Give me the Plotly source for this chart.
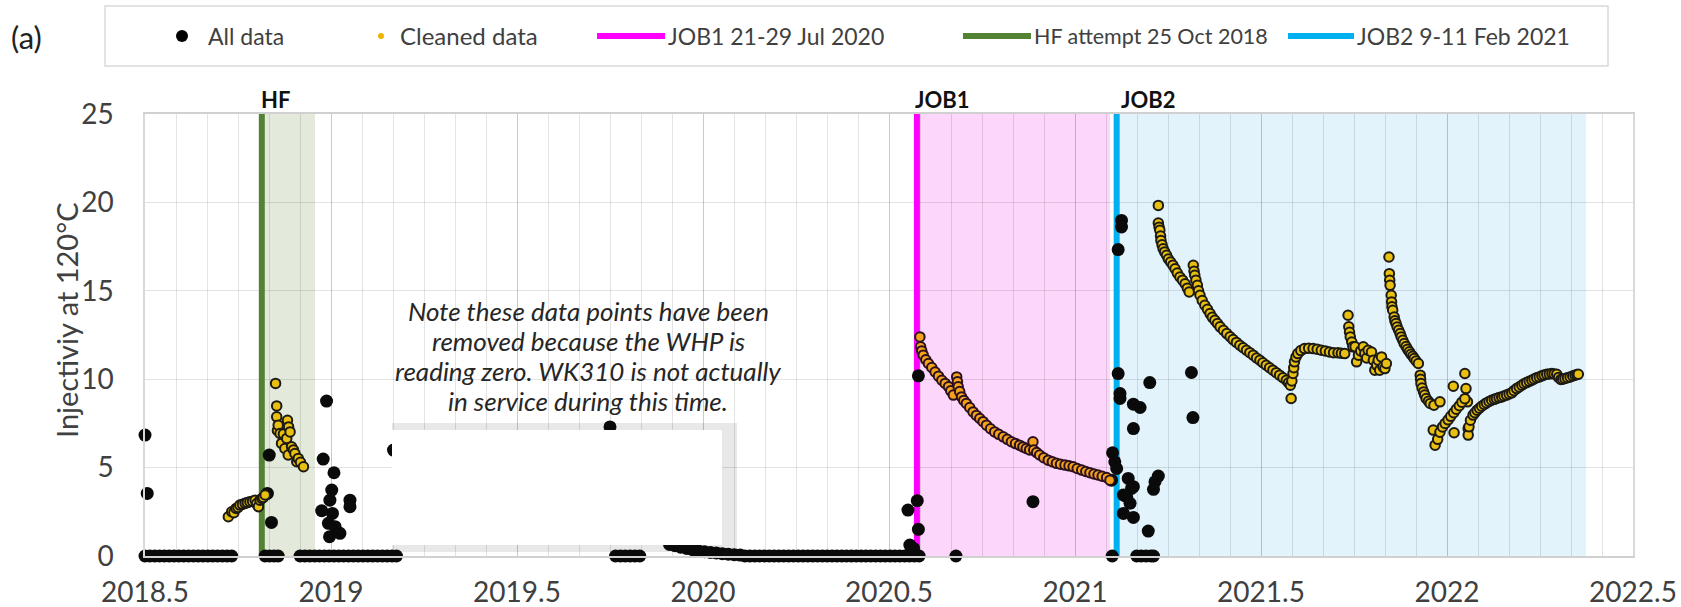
import plotly.graph_objects as go

# ---------------- data (decimal years, injectivity) ----------------
# "All data" (black points)
all_x = [
    2018.500, 2018.513, 2018.526, 2018.539, 2018.552, 2018.565, 2018.578, 2018.591, 2018.604, 2018.617,
    2018.630, 2018.643, 2018.656, 2018.669, 2018.682, 2018.695, 2018.708, 2018.721, 2018.733,
    2018.500, 2018.506,
    2018.823, 2018.835, 2018.847, 2018.858,
    2018.834, 2018.829, 2018.840,
    2018.917, 2018.930, 2018.943, 2018.956, 2018.969, 2018.982, 2018.995, 2019.008, 2019.021, 2019.034,
    2019.047, 2019.060, 2019.073, 2019.086, 2019.099, 2019.112, 2019.125, 2019.138, 2019.151, 2019.164, 2019.176,
    2018.988, 2018.979, 2019.008, 2019.002, 2018.997, 2018.975, 2019.004, 2018.993, 2019.011, 2018.996,
    2019.024, 2019.051, 2019.051, 2019.168,
    2019.750,
    2019.765, 2019.778, 2019.791, 2019.804, 2019.817, 2019.830,
    2019.910, 2019.925, 2019.940, 2019.956, 2019.972, 2019.988, 2020.004, 2020.020, 2020.036, 2020.052,
    2020.068, 2020.084, 2020.100,
    2020.113, 2020.126, 2020.139, 2020.152, 2020.165, 2020.178, 2020.191, 2020.204, 2020.217, 2020.230,
    2020.243, 2020.256, 2020.269, 2020.282, 2020.295, 2020.308, 2020.321, 2020.334, 2020.347, 2020.360,
    2020.373, 2020.386, 2020.399, 2020.412, 2020.425, 2020.438, 2020.451, 2020.464, 2020.477, 2020.490,
    2020.503, 2020.516, 2020.529, 2020.542, 2020.555, 2020.568, 2020.581,
    2020.551, 2020.576, 2020.579, 2020.556, 2020.561, 2020.566, 2020.579,
    2020.680, 2020.887,
    2021.125, 2021.125, 2021.116, 2021.116, 2021.121, 2021.121, 2021.201, 2021.313, 2021.317, 2021.157,
    2021.175, 2021.157, 2021.101, 2021.107, 2021.112, 2021.098, 2021.143, 2021.157, 2021.152, 2021.130,
    2021.139, 2021.148, 2021.130, 2021.157, 2021.224, 2021.215, 2021.211, 2021.197,
    2021.100, 2021.166, 2021.178, 2021.191, 2021.204, 2021.211,
]
all_y = [
    0, 0, 0, 0, 0, 0, 0, 0, 0, 0,
    0, 0, 0, 0, 0, 0, 0, 0, 0,
    6.84, 3.54,
    0, 0, 0, 0,
    5.71, 3.54, 1.90,
    0, 0, 0, 0, 0, 0, 0, 0, 0, 0,
    0, 0, 0, 0, 0, 0, 0, 0, 0, 0, 0,
    8.76, 5.48, 4.71, 3.73, 3.16, 2.56, 2.41, 1.85, 1.66, 1.09,
    1.28, 3.16, 2.79, 5.99,
    7.30,
    0, 0, 0, 0, 0, 0,
    0.65, 0.58, 0.50, 0.43, 0.36, 0.28, 0.24, 0.20, 0.17, 0.13,
    0.10, 0.07, 0.05,
    0, 0, 0, 0, 0, 0, 0, 0, 0, 0,
    0, 0, 0, 0, 0, 0, 0, 0, 0, 0,
    0, 0, 0, 0, 0, 0, 0, 0, 0, 0,
    0, 0, 0, 0, 0, 0, 0,
    2.60, 3.13, 1.51, 0.62, 0.34, 0.43, 10.19,
    0, 3.07,
    18.98, 18.61, 17.33, 10.32, 9.19, 8.91, 9.81, 10.38, 7.83, 8.59,
    8.40, 7.21, 5.84, 5.33, 4.95, 4.29, 4.39, 3.92, 3.82, 3.45,
    3.35, 2.98, 2.41, 2.18, 4.52, 4.20, 3.77, 1.41,
    0, 0, 0, 0, 0, 0,
]

# "Cleaned data" (gold points) around HF and after JOB2
clean_x = [
    2018.724, 2018.733, 2018.739, 2018.745, 2018.750, 2018.755, 2018.762, 2018.769, 2018.775, 2018.782,
    2018.789, 2018.796, 2018.800, 2018.805, 2018.809, 2018.814, 2018.818, 2018.823,
    2018.851, 2018.854, 2018.854, 2018.856, 2018.858, 2018.863, 2018.867, 2018.872, 2018.876, 2018.881,
    2018.883, 2018.885, 2018.886, 2018.890, 2018.894, 2018.899, 2018.903, 2018.908, 2018.912, 2018.918, 2018.926,
    2021.224, 2021.224, 2021.226, 2021.228, 2021.230, 2021.231, 2021.234, 2021.237, 2021.241, 2021.246,
    2021.251, 2021.257, 2021.263, 2021.269, 2021.275, 2021.282, 2021.289, 2021.296, 2021.302, 2021.307,
    2021.318, 2021.320, 2021.322, 2021.325, 2021.329, 2021.332, 2021.336, 2021.342, 2021.349, 2021.356,
    2021.363, 2021.369, 2021.376, 2021.383, 2021.390, 2021.399, 2021.408, 2021.417, 2021.425, 2021.434,
    2021.443, 2021.452, 2021.461, 2021.470, 2021.479, 2021.488, 2021.497, 2021.505, 2021.514, 2021.523,
    2021.532, 2021.541, 2021.550, 2021.559, 2021.568, 2021.574, 2021.579, 2021.581, 2021.583, 2021.586,
    2021.588, 2021.590, 2021.594, 2021.599, 2021.607, 2021.617, 2021.628, 2021.640, 2021.651, 2021.662,
    2021.673, 2021.684, 2021.695, 2021.707, 2021.716, 2021.725,
    2021.734, 2021.736, 2021.738, 2021.740, 2021.744, 2021.747, 2021.753, 2021.757, 2021.762, 2021.768,
    2021.775, 2021.779, 2021.784, 2021.788, 2021.797, 2021.802, 2021.806, 2021.811, 2021.815, 2021.819,
    2021.824, 2021.828, 2021.833, 2021.837,
    2021.844, 2021.845, 2021.846, 2021.847, 2021.850, 2021.851, 2021.852, 2021.854, 2021.858, 2021.860,
    2021.863, 2021.866, 2021.870, 2021.874, 2021.877, 2021.881, 2021.885, 2021.890, 2021.894, 2021.899,
    2021.903, 2021.908, 2021.912, 2021.917, 2021.923, 2021.928, 2021.929, 2021.930, 2021.933, 2021.937,
    2021.940, 2021.944, 2021.950, 2021.955, 2021.965, 2021.981,
    2022.048, 2022.017, 2022.051, 2022.055, 2021.963, 2021.968, 2021.975, 2021.981, 2021.988, 2021.995,
    2022.003, 2022.010, 2022.018, 2022.025, 2022.033, 2022.040, 2022.048, 2022.019, 2022.057, 2022.057,
    2022.059, 2022.063, 2022.070, 2022.075, 2022.081, 2022.087, 2022.093, 2022.100, 2022.106, 2022.113,
    2022.120, 2022.127, 2022.133, 2022.140, 2022.147, 2022.153, 2022.160, 2022.167, 2022.174, 2022.180,
    2022.187, 2022.194, 2022.201, 2022.207, 2022.214, 2022.221, 2022.228, 2022.234, 2022.241, 2022.248,
    2022.255, 2022.261, 2022.268, 2022.275, 2022.282, 2022.288, 2022.295, 2022.300, 2022.306, 2022.311,
    2022.317, 2022.324, 2022.331, 2022.338, 2022.344, 2022.349, 2022.353,
]
clean_y = [
    2.22, 2.50, 2.45, 2.69, 2.75, 2.88, 2.92, 2.98, 3.02, 3.07,
    3.10, 3.16, 2.95, 2.79, 3.16, 3.25, 3.31, 3.45,
    9.76, 8.49, 7.87, 7.10, 7.40, 6.93, 6.37, 6.90, 6.08, 6.65,
    7.68, 5.71, 7.30, 7.02, 6.18, 6.00, 5.80, 5.33, 5.52, 5.30, 5.05,
    19.83, 18.83, 18.60, 18.42, 18.10, 17.85, 17.60, 17.38, 17.20, 17.01,
    16.80, 16.63, 16.45, 16.25, 16.00, 15.78, 15.60, 15.40, 15.15, 14.93,
    16.44, 16.10, 15.88, 15.60, 15.31, 15.00, 14.75, 14.45, 14.18, 13.95,
    13.71, 13.50, 13.33, 13.15, 12.96, 12.77, 12.58, 12.40, 12.24, 12.08,
    11.92, 11.78, 11.64, 11.50, 11.36, 11.20, 11.07, 10.93, 10.79, 10.65,
    10.51, 10.37, 10.23, 10.08, 9.94, 9.80, 9.66, 8.91, 9.90, 10.32,
    10.65, 10.98, 11.25, 11.45, 11.62, 11.73, 11.75, 11.73, 11.70, 11.64,
    11.60, 11.54, 11.50, 11.49, 11.47, 11.45,
    13.62, 12.96, 12.65, 12.39, 12.10, 11.83, 11.83, 10.98, 11.36, 11.60,
    11.83, 11.45, 11.20, 11.64, 11.54, 11.07, 10.51, 10.80, 11.07, 10.51,
    11.26, 10.70, 10.60, 10.89,
    16.91, 15.97, 15.60, 15.31, 14.75, 14.37, 14.10, 13.90, 13.52, 13.30,
    13.15, 12.95, 12.77, 12.58, 12.39, 12.20, 12.02, 11.85, 11.69, 11.55,
    11.41, 11.30, 11.17, 11.03, 10.89, 10.23, 10.00, 9.76, 9.50, 9.28,
    9.10, 8.91, 8.75, 8.63, 8.53, 8.72,
    10.32, 9.60, 9.47, 8.72, 7.12, 6.27, 6.60, 7.00, 7.30, 7.50,
    7.70, 7.90, 8.10, 8.30, 8.50, 8.70, 8.90, 6.97, 7.21, 6.84,
    7.31, 7.68, 7.97, 8.10, 8.25, 8.36, 8.47, 8.57, 8.66, 8.74,
    8.81, 8.86, 8.91, 8.96, 9.00, 9.05, 9.10, 9.16, 9.23, 9.35,
    9.47, 9.56, 9.66, 9.74, 9.81, 9.88, 9.94, 10.01, 10.08, 10.13,
    10.19, 10.24, 10.28, 10.30, 10.32, 10.30, 10.28, 10.10, 9.98, 10.00,
    10.04, 10.08, 10.13, 10.18, 10.23, 10.26, 10.28,
]

# "Cleaned data" during the JOB1 window (shown orange)
clean_job1_x = [
    2020.583, 2020.585, 2020.588, 2020.592, 2020.599, 2020.606, 2020.615, 2020.624, 2020.633, 2020.642,
    2020.651, 2020.660, 2020.666, 2020.673, 2020.682, 2020.684, 2020.686, 2020.690, 2020.695, 2020.701,
    2020.708, 2020.717, 2020.726, 2020.735, 2020.744, 2020.753, 2020.762, 2020.773, 2020.784, 2020.795,
    2020.807, 2020.818, 2020.829, 2020.840, 2020.851, 2020.860, 2020.869, 2020.878, 2020.887, 2020.889,
    2020.897, 2020.905, 2020.916, 2020.928, 2020.939, 2020.950, 2020.961, 2020.973, 2020.984, 2020.995,
    2021.006, 2021.018, 2021.029, 2021.040, 2021.051, 2021.062, 2021.073, 2021.085, 2021.094,
]
clean_job1_y = [
    12.39, 11.83, 11.60, 11.36, 11.10, 10.89, 10.66, 10.41, 10.17, 9.94,
    9.76, 9.57, 9.34, 9.10, 10.13, 9.85, 9.57, 9.30, 9.00, 8.80,
    8.63, 8.40, 8.15, 7.95, 7.78, 7.60, 7.40, 7.20, 7.02, 6.88,
    6.74, 6.60, 6.46, 6.36, 6.27, 6.17, 6.08, 6.00, 6.46, 5.99,
    5.85, 5.71, 5.56, 5.42, 5.33, 5.24, 5.19, 5.14, 5.10, 5.05,
    4.95, 4.86, 4.78, 4.71, 4.64, 4.58, 4.51, 4.44, 4.29,
]

# events: start line and end of shaded period
event_labels = ["HF", "JOB1", "JOB2"]
event_legend = ["HF attempt 25 Oct 2018", "JOB1 21-29 Jul 2020", "JOB2 9-11 Feb 2021"]
event_start = [2018.814, 2020.575, 2021.112]
event_end = [2018.957, 2021.094, 2022.374]
event_line_colors = ["#548235", "#ff00ff", "#00b0f0"]
event_band_colors = ["#e3eadc", "#fdd6fb", "#e2f3fb"]

x_ticks = [2018.5, 2019, 2019.5, 2020, 2020.5, 2021, 2021.5, 2022, 2022.5]

note_lines = ["Note these data points have been",
              "removed because the WHP is",
              "reading zero. WK310 is not actually",
              "in service during this time."]

# ---------------- layout helpers (pixel -> paper) ----------------
FW, FH = 1681, 607
L, R, T, B = 145, 48, 114, 51
PW, PH = FW - L - R, FH - T - B


def pxx(px):
    return (px - L) / PW


def pxy(py):
    return (FH - B - py) / PH


FONT = "Lato, 'Open Sans', sans-serif"
TXT = "#404040"
GRID = "rgba(0,0,0,0.11)"

fig = go.Figure()

# event vertical lines
for xd, col in zip(event_start, event_line_colors):
    fig.add_trace(go.Scatter(x=[xd, xd], y=[0, 25], mode="lines",
                             line=dict(color=col, width=6), showlegend=False,
                             hoverinfo="skip"))

fig.add_trace(go.Scatter(x=all_x, y=all_y, mode="markers", name="All data",
                         marker=dict(color="#0a0a0a", size=13, line=dict(width=0)),
                         cliponaxis=False, showlegend=False))
fig.add_trace(go.Scatter(x=clean_x, y=clean_y, mode="markers", name="Cleaned data",
                         marker=dict(color="#e9bf12", size=9.5,
                                     line=dict(color="#1c1a12", width=2)),
                         cliponaxis=False, showlegend=False))
fig.add_trace(go.Scatter(x=clean_job1_x, y=clean_job1_y, mode="markers", name="Cleaned data (JOB1)",
                         marker=dict(color="#f4a21c", size=9.5,
                                     line=dict(color="#2a1020", width=2)),
                         cliponaxis=False, showlegend=False))

shapes = []
for x0, x1, col in zip(event_start, event_end, event_band_colors):
    shapes.append(dict(type="rect", xref="x", yref="y", x0=x0, x1=x1, y0=0, y1=25,
                       fillcolor=col, line=dict(width=0), layer="below"))
shapes.append(dict(type="rect", xref="paper", yref="paper", x0=pxx(392), x1=pxx(737),
                   y0=pxy(552), y1=pxy(423), fillcolor="#e8e8e8", line=dict(width=0), layer="below"))
shapes.append(dict(type="rect", xref="paper", yref="paper", x0=pxx(392), x1=pxx(722),
                   y0=pxy(545), y1=pxy(430), fillcolor="white", line=dict(width=0), layer="above"))

# legend box
shapes.append(dict(type="rect", xref="paper", yref="paper", x0=pxx(105), x1=pxx(1608),
                   y0=pxy(66), y1=pxy(6), fillcolor="white", line=dict(color="#d9d9d9", width=1.5),
                   layer="above"))
LEG_Y = 36
LEG_FS = {"All data": 23, "Cleaned data": 24, "HF": 21.5, "JOB1": 23, "JOB2": 23}
shapes.append(dict(type="circle", xref="paper", yref="paper", x0=pxx(182 - 6), x1=pxx(182 + 6),
                   y0=pxy(LEG_Y + 6), y1=pxy(LEG_Y - 6), fillcolor="#000000", line=dict(width=0),
                   layer="above"))
shapes.append(dict(type="circle", xref="paper", yref="paper", x0=pxx(381 - 3), x1=pxx(381 + 3),
                   y0=pxy(LEG_Y + 3), y1=pxy(LEG_Y - 3), fillcolor="#f0b400", line=dict(width=0),
                   layer="above"))
leg_line_x = {"JOB1": (597, 665), "HF": (963, 1031), "JOB2": (1288, 1354)}
annotations = []
for lab, lg, col in zip(event_labels, event_legend, event_line_colors):
    a, b = leg_line_x[lab]
    shapes.append(dict(type="line", xref="paper", yref="paper", x0=pxx(a), x1=pxx(b),
                       y0=pxy(LEG_Y), y1=pxy(LEG_Y), line=dict(color=col, width=6), layer="above"))
    annotations.append(dict(text=lg, xref="paper", yref="paper", x=pxx(b + 1), y=pxy(LEG_Y),
                            xanchor="left", yanchor="middle", showarrow=False,
                            font=dict(size=LEG_FS[lab], color=TXT, family=FONT)))
annotations.append(dict(text="All data", xref="paper", yref="paper", x=pxx(206), y=pxy(LEG_Y),
                        xanchor="left", yanchor="middle", showarrow=False,
                        font=dict(size=LEG_FS["All data"], color=TXT, family=FONT)))
annotations.append(dict(text="Cleaned data", xref="paper", yref="paper", x=pxx(398), y=pxy(LEG_Y),
                        xanchor="left", yanchor="middle", showarrow=False,
                        font=dict(size=LEG_FS["Cleaned data"], color=TXT, family=FONT)))

# event labels above plot
lab_shift = {"HF": -3, "JOB1": -4, "JOB2": 2}
for lab, xd in zip(event_labels, event_start):
    annotations.append(dict(text="<b>" + lab + "</b>", xref="x", yref="paper", x=xd, y=pxy(100),
                            xanchor="left", yanchor="middle", xshift=lab_shift[lab], showarrow=False,
                            font=dict(size=22, color="#111111", family=FONT)))

annotations.append(dict(text="(a)", xref="paper", yref="paper", x=pxx(9), y=pxy(37),
                        xanchor="left", yanchor="middle", showarrow=False,
                        font=dict(size=31, color="#222222", family=FONT)))
annotations.append(dict(text="Injectiviy at 120°C", xref="paper", yref="paper", x=pxx(66), y=pxy(320),
                        xanchor="center", yanchor="middle", textangle=-90, showarrow=False,
                        font=dict(size=29, color=TXT, family=FONT)))
for i, line in enumerate(note_lines):
    annotations.append(dict(text="<i>" + line + "</i>", xref="paper", yref="paper", x=pxx(588),
                            y=pxy(311 + 30 * i), xanchor="center", yanchor="middle", showarrow=False,
                            font=dict(size=26, color="#262626", family=FONT)))

fig.update_layout(
    width=FW, height=FH,
    margin=dict(l=L, r=R, t=T, b=B, autoexpand=False),
    paper_bgcolor="white", plot_bgcolor="white",
    font=dict(family=FONT, color=TXT),
    shapes=shapes, annotations=annotations, showlegend=False,
    xaxis=dict(range=[2018.5, 2022.5], tickvals=x_ticks, ticktext=[f"{v:g}" for v in x_ticks],
               showgrid=True, gridcolor=GRID, gridwidth=1.3,
               minor=dict(dtick=1 / 12, tick0=2018.5, showgrid=True, gridcolor=GRID, gridwidth=1.2),
               showline=True, mirror=True, linecolor="#d0d0d0", linewidth=2,
               ticks="", zeroline=False, ticklabelstandoff=10,
               tickfont=dict(size=28, color=TXT, family=FONT)),
    yaxis=dict(range=[0, 25], dtick=5, showgrid=True, gridcolor=GRID, gridwidth=1.3,
               showline=True, mirror=True, linecolor="#d9d9d9", linewidth=1.5,
               ticks="", zeroline=False, ticklabelstandoff=24,
               tickfont=dict(size=28, color=TXT, family=FONT)),
)

fig.write_html("out.html", config={"displayModeBar": False},
               post_script="document.body.style.margin='0px';")
